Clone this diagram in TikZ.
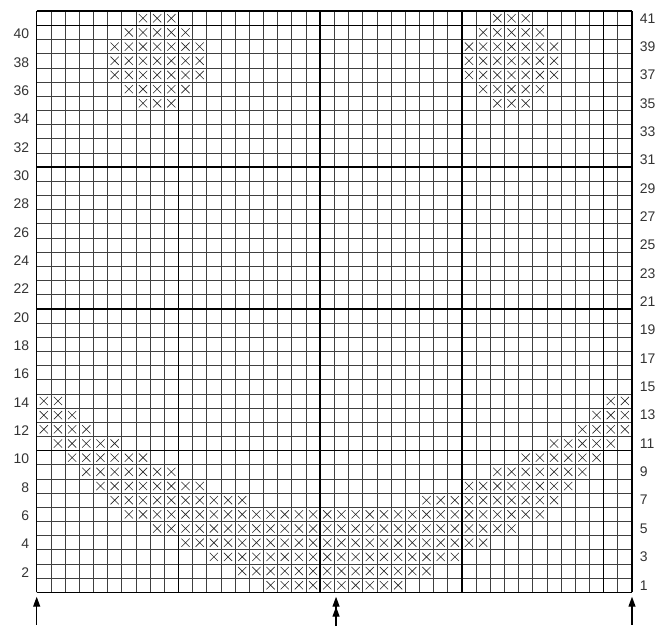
\documentclass[tikz,border=0pt]{standalone}
\usepackage{fontspec}
\setmainfont{Liberation Sans}
\usepackage{tikz}
\usetikzlibrary{arrows.meta}
\tikzset{
  gridline/.style={draw=black!75, line width=0.7pt},
  majorline/.style={draw=black, line width=1.6pt},
  stitch/.style={draw=black!85, line width=0.6pt},
  rownum/.style={font=\fontsize{14}{16}\selectfont, text=black!80, inner sep=0pt},
  rowarrow/.style={-{Triangle[length=10pt,width=7pt]}, line width=1.2pt, black},
  midarrow/.style={-{Triangle[length=10pt,width=7pt]Triangle[length=10pt,width=7pt]}, line width=1.2pt, black}
}

\begin{document}
\begin{tikzpicture}[x=0.5cm, y=0.5cm]
  \useasboundingbox (-2.589,-2.378) rectangle (44.54,41.79);
  \draw[gridline, step=1] (0,0) grid (42,41);
  \foreach \x in {0,10,20,30,40,42} \draw[majorline] (\x,0) -- (\x,41);
  \foreach \y in {0,10,20,30,40,41} \draw[majorline] (0,\y) -- (42,\y);
  \foreach \r/\a/\b in {1/17/26, 2/15/28, 3/13/30, 4/11/32, 5/9/34, 6/7/36,
      7/6/15, 7/28/37, 8/5/12, 8/31/38, 9/4/10, 9/33/39, 10/3/8, 10/35/40,
      11/2/6, 11/37/41, 12/1/4, 12/39/42, 13/1/3, 13/40/42, 14/1/2, 14/41/42,
      35/8/10, 35/33/35, 36/7/11, 36/32/36, 37/6/12, 37/31/37, 38/6/12, 38/31/37,
      39/6/12, 39/31/37, 40/7/11, 40/32/36, 41/8/10, 41/33/35}
    \foreach \c in {\a,...,\b}
      \draw[stitch] (\c-0.79,\r-0.79) -- (\c-0.21,\r-0.21)
                    (\c-0.79,\r-0.21) -- (\c-0.21,\r-0.79);
  \foreach \r in {2,4,...,40}
    \node[rownum, anchor=east] (num\r) at (-0.52,\r-0.6) {\r};
  \foreach \r in {1,3,...,41}
    \node[rownum, anchor=west] (num\r) at (42.54,\r-0.5) {\r};
  \coordinate (footL) at (0,-2.3);
  \coordinate (tipL) at (0,-0.31);
  \coordinate (footM) at (21.12,-2.378);
  \coordinate (tipM) at (21.12,-0.31);
  \coordinate (footR) at (42,-2.3);
  \coordinate (tipR) at (42,-0.31);
  \draw[rowarrow] (footL) -- (tipL);
  \draw[midarrow] (footM) -- (tipM);
  \draw[rowarrow] (footR) -- (tipR);
\end{tikzpicture}
\end{document}
